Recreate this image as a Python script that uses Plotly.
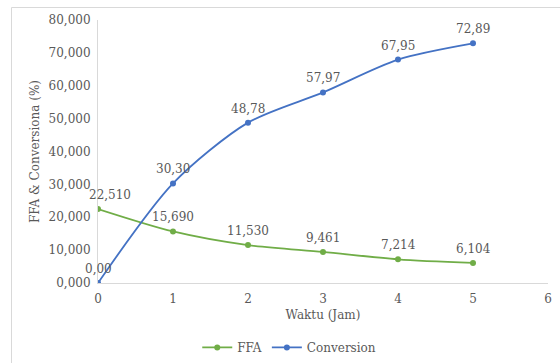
import plotly.graph_objects as go

# Reaction time (hours) and measured values
waktu = [0, 1, 2, 3, 4, 5]
ffa = [22.510, 15.690, 11.530, 9.461, 7.214, 6.104]
conversion = [0.00, 30.30, 48.78, 57.97, 67.95, 72.89]

ffa_labels = ["22,510", "15,690", "11,530", "9,461", "7,214", "6,104"]
conv_labels = ["0,00", "30,30", "48,78", "57,97", "67,95", "72,89"]

y_ticks = [0, 10, 20, 30, 40, 50, 60, 70, 80]
y_ticktext = ["0,000", "10,000", "20,000", "30,000", "40,000",
              "50,000", "60,000", "70,000", "80,000"]

GREEN = "#70ad47"
BLUE = "#4472c4"
TEXT = "#595959"
FONT = "'DejaVu Serif', 'Liberation Serif', serif"

W, H = 560, 363
L, R, T, B = 98, 12, 20, 80
pw, ph = W - L - R, H - T - B

fig = go.Figure()

fig.add_trace(go.Scatter(
    x=waktu, y=ffa, name="FFA", mode="lines+markers",
    line=dict(color=GREEN, width=1.8, shape="spline", smoothing=0.8),
    marker=dict(color=GREEN, size=6),
))
fig.add_trace(go.Scatter(
    x=waktu, y=conversion, name="Conversion", mode="lines+markers",
    line=dict(color=BLUE, width=1.8, shape="spline", smoothing=0.8),
    marker=dict(color=BLUE, size=6),
))

# Data labels above each point
ffa_xshift = [12, 0, 0, 0, 0, 0]
for xv, yv, txt, dx in zip(waktu, ffa, ffa_labels, ffa_xshift):
    fig.add_annotation(x=xv, y=yv, text=txt, showarrow=False,
                       yshift=14, xshift=dx,
                       font=dict(family=FONT, size=12, color=TEXT))
for xv, yv, txt in zip(waktu, conversion, conv_labels):
    fig.add_annotation(x=xv, y=yv, text=txt, showarrow=False,
                       yshift=14,
                       font=dict(family=FONT, size=12, color=TEXT))

# Chart area frame (top and left edges visible)
fig.add_shape(type="rect", xref="paper", yref="paper",
              x0=(11.5 - L) / pw, x1=(W + 5 - L) / pw,
              y0=(H - B - (H + 5)) / ph, y1=(H - B - 7.5) / ph,
              line=dict(color="#d9d9d9", width=1), layer="below")

fig.update_layout(
    width=W, height=H,
    margin=dict(l=L, r=R, t=T, b=B, autoexpand=False),
    paper_bgcolor="white", plot_bgcolor="white",
    font=dict(family=FONT, size=12, color=TEXT),
    showlegend=True,
    legend=dict(orientation="h", x=0.425, xanchor="center",
                y=-0.19, yanchor="top",
                font=dict(family=FONT, size=12, color=TEXT),
                itemwidth=30, traceorder="normal"),
    xaxis=dict(range=[0, 6], tickvals=[0, 1, 2, 3, 4, 5, 6],
               showgrid=False, zeroline=False,
               showline=True, linecolor="#d9d9d9", linewidth=1,
               ticks="outside", ticklen=5, tickcolor="rgba(0,0,0,0)",
               title=dict(text="Waktu (Jam)", standoff=5,
                          font=dict(family=FONT, size=12, color=TEXT))),
    yaxis=dict(range=[0, 80], tickvals=y_ticks, ticktext=y_ticktext,
               showgrid=False, zeroline=False,
               showline=True, linecolor="#d9d9d9", linewidth=1,
               ticks="outside", ticklen=4, tickcolor="rgba(0,0,0,0)",
               title=dict(text="FFA & Conversiona (%)", standoff=6,
                          font=dict(family=FONT, size=12, color=TEXT))),
)

fig.write_html("out.html")
